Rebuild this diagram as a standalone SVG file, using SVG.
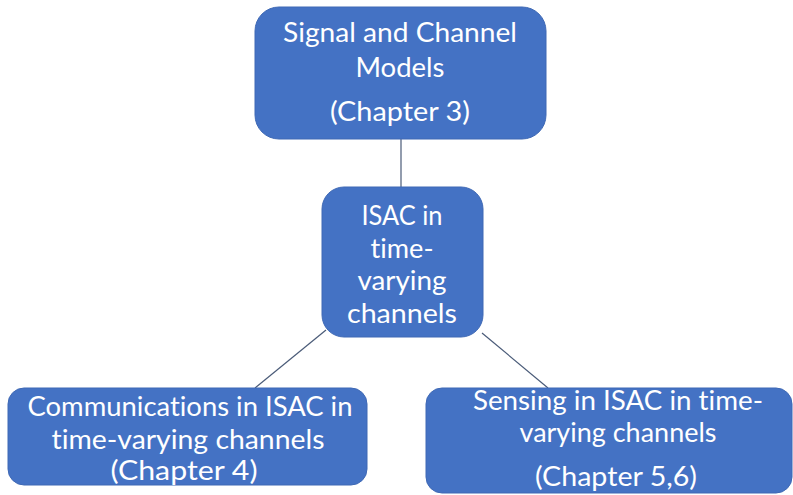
<svg xmlns="http://www.w3.org/2000/svg" width="793" height="495" viewBox="0 0 793 495">
  <style>
    .box { fill: #4472C4; stroke: #3F69B5; stroke-width: 1; }
    .lbl { fill: #FFFFFF; font-family: Lato, "Open Sans", "Liberation Sans", sans-serif; font-size: 26px; text-anchor: middle; font-variant-ligatures: none; font-feature-settings: "liga" 0, "clig" 0; }
    .big { font-size: 27px; }
    .link { stroke: #4A5B78; stroke-width: 1.2; fill: none; }
  </style>
  <rect width="793" height="495" fill="#FFFFFF"/>

  <g id="connectors">
    <line class="link" x1="401" y1="139" x2="401" y2="188"/>
    <line class="link" x1="326" y1="330" x2="255" y2="388"/>
    <line class="link" x1="482" y1="333" x2="548" y2="388"/>
  </g>

  <g id="signal-channel-models">
    <rect class="box" x="255" y="7" width="291" height="132" rx="24"/>
    <text class="lbl" x="400" y="42" textLength="234" lengthAdjust="spacingAndGlyphs">Signal and Channel</text>
    <text class="lbl" x="400" y="77" textLength="89" lengthAdjust="spacingAndGlyphs">Models</text>
    <text class="lbl" x="400" y="121" textLength="140" lengthAdjust="spacingAndGlyphs">(Chapter 3)</text>
  </g>

  <g id="isac-time-varying">
    <rect class="box" x="322" y="187" width="161" height="150" rx="22"/>
    <text class="lbl" x="402" y="225" textLength="81" lengthAdjust="spacingAndGlyphs">ISAC in</text>
    <text class="lbl" x="402" y="258" textLength="63" lengthAdjust="spacingAndGlyphs">time-</text>
    <text class="lbl" x="402" y="290" textLength="89" lengthAdjust="spacingAndGlyphs">varying</text>
    <text class="lbl" x="402" y="323" textLength="110" lengthAdjust="spacingAndGlyphs">channels</text>
  </g>

  <g id="communications">
    <rect class="box" x="8" y="388" width="359" height="97" rx="16"/>
    <text class="lbl big" x="190" y="416" textLength="325" lengthAdjust="spacingAndGlyphs">Communications in ISAC in</text>
    <text class="lbl big" x="188" y="449" textLength="273" lengthAdjust="spacingAndGlyphs">time-varying channels</text>
    <text class="lbl big" x="184" y="480" textLength="147" lengthAdjust="spacingAndGlyphs">(Chapter 4)</text>
  </g>

  <g id="sensing">
    <rect class="box" x="426" y="388" width="366" height="105" rx="16"/>
    <text class="lbl big" x="618" y="410" textLength="290" lengthAdjust="spacingAndGlyphs">Sensing in ISAC in time-</text>
    <text class="lbl big" x="618" y="442" textLength="197" lengthAdjust="spacingAndGlyphs">varying channels</text>
    <text class="lbl big" x="616" y="486" textLength="162" lengthAdjust="spacingAndGlyphs">(Chapter 5,6)</text>
  </g>
</svg>
